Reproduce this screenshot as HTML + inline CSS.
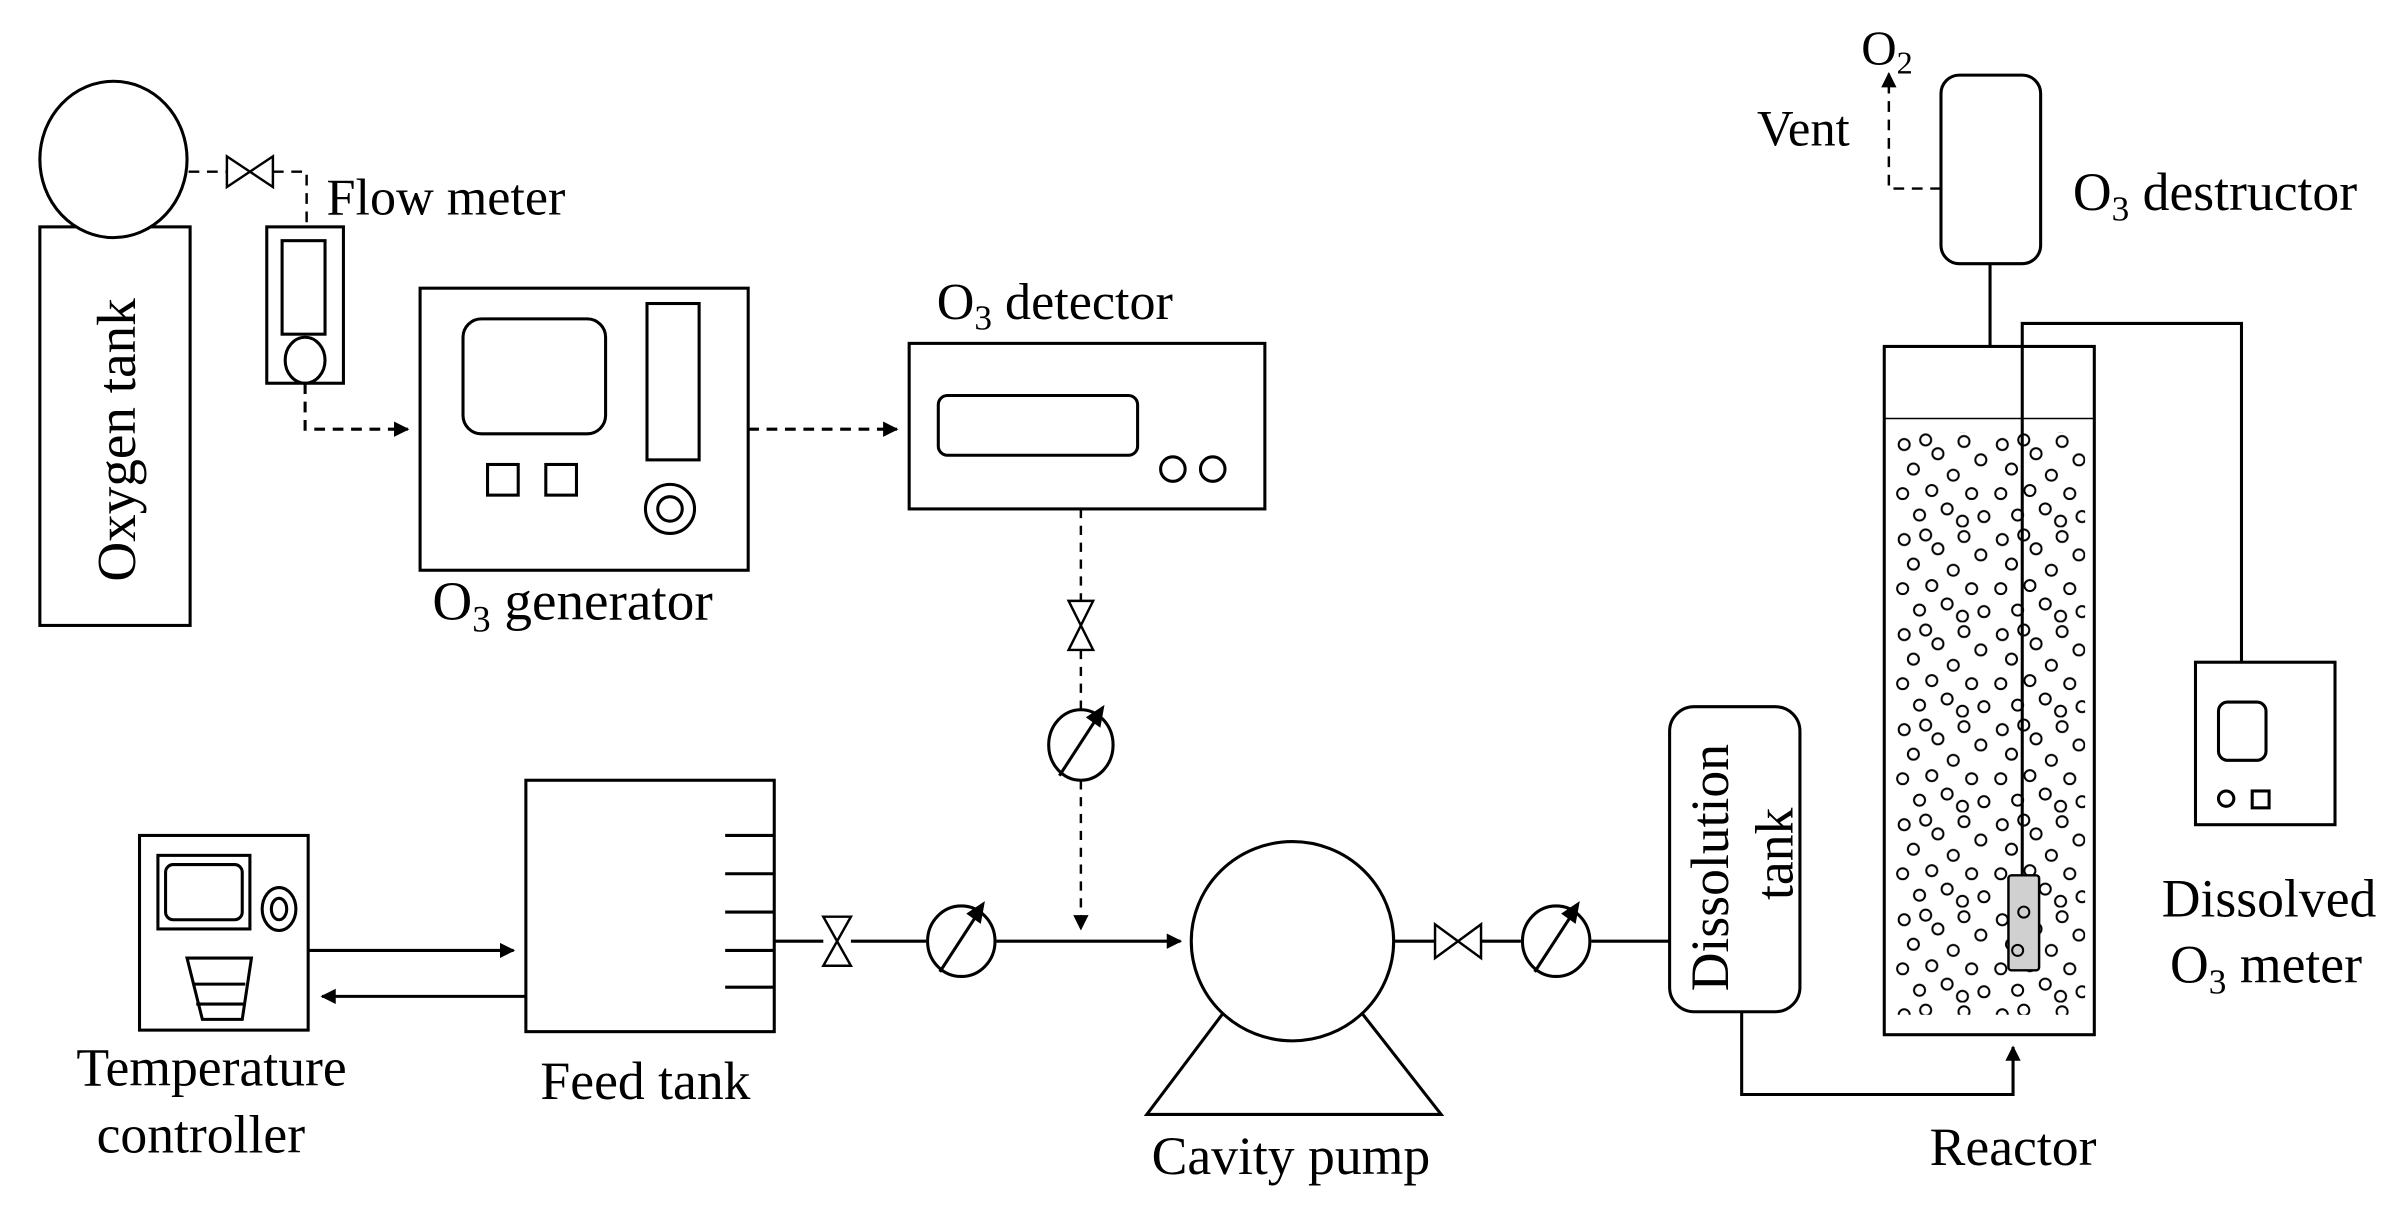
<!DOCTYPE html>
<html><head><meta charset="utf-8"><style>
html,body{margin:0;padding:0;background:#fff;}
svg{display:block;}
text{font-family:"Liberation Serif",serif;fill:#000;}
</style></head><body>
<svg width="2404" height="1211" viewBox="0 0 1568 790" preserveAspectRatio="none" xmlns="http://www.w3.org/2000/svg">
<defs>
<marker id="ah" viewBox="0 0 10 10" refX="9" refY="5" markerWidth="10" markerHeight="10" markerUnits="userSpaceOnUse" orient="auto"><path d="M0,0 L10,5 L0,10 z" fill="#000"/></marker>
<pattern id="bub" x="1236" y="282" width="64" height="62" patternUnits="userSpaceOnUse">
<g fill="none" stroke="#000" stroke-width="1.3">
<circle cx="6" cy="8" r="3.6"/><circle cx="20" cy="5" r="3.6"/><circle cx="28" cy="14" r="3.6"/>
<circle cx="45" cy="6" r="3.6"/><circle cx="56" cy="18" r="3.6"/><circle cx="12" cy="24" r="3.6"/>
<circle cx="38" cy="28" r="3.6"/><circle cx="5" cy="40" r="3.6"/><circle cx="24" cy="38" r="3.6"/>
<circle cx="50" cy="40" r="3.6"/><circle cx="16" cy="54" r="3.6"/><circle cx="34" cy="50" r="3.6"/>
<circle cx="58" cy="55" r="3.6"/><circle cx="44" cy="58" r="3.6"/>
</g></pattern>
</defs>
<g fill="none" stroke="#000" stroke-width="2">
<!-- oxygen tank -->
<rect x="26" y="148" width="98" height="260"/>
<ellipse cx="74" cy="104" rx="48" ry="51" fill="#fff"/>
<path d="M123,112 H148 M178,112 H200 V148" stroke-dasharray="7,5" stroke-width="1.6"/>
<polygon points="148,102 178,122 178,102 148,122" stroke-width="1.6"/>
<rect x="174" y="148" width="50" height="102"/>
<rect x="184" y="157" width="28" height="61"/>
<ellipse cx="199" cy="235" rx="13" ry="15"/>
<path d="M199,250 V280 H266" stroke-dasharray="7,5" marker-end="url(#ah)"/>
<!-- generator -->
<rect x="274" y="188" width="214" height="184"/>
<rect x="302" y="208" width="93" height="75" rx="12"/>
<rect x="422" y="198" width="34" height="102"/>
<rect x="318" y="303" width="20" height="20"/>
<rect x="356" y="303" width="20" height="20"/>
<circle cx="437" cy="332" r="16"/><circle cx="437" cy="332" r="8"/>
<path d="M488,280 H585" stroke-dasharray="7,5" marker-end="url(#ah)"/>
<!-- detector -->
<rect x="593" y="224" width="232" height="108"/>
<rect x="612" y="258" width="130" height="39" rx="6"/>
<circle cx="765" cy="306" r="8"/><circle cx="791" cy="306" r="8"/>
<path d="M705,332 V392" stroke-dasharray="6,5" stroke-width="1.6"/>
<polygon points="697,392 713,392 697,424 713,424" stroke-width="1.6"/>
<path d="M705,424 V464" stroke-dasharray="6,5" stroke-width="1.6"/>
<ellipse cx="705" cy="486" rx="21" ry="23"/>
<path d="M691,506 L717,466"/><path d="M719,462 L710,468 L717,473 z" fill="#000"/>
<path d="M705,509 V606" stroke-dasharray="6,5" stroke-width="1.6" marker-end="url(#ah)"/>
<!-- temperature controller -->
<rect x="91" y="545" width="110" height="127"/>
<rect x="103" y="558" width="60" height="48"/>
<rect x="108" y="564" width="50" height="36" rx="5"/>
<ellipse cx="182" cy="593" rx="11" ry="14"/><ellipse cx="182" cy="593" rx="5" ry="7"/>
<polygon points="122,625 164,625 158,665 132,665"/>
<path d="M126,642 H160 M128,655 H159"/>
<path d="M201,620 H335" marker-end="url(#ah)"/>
<path d="M343,650 H210" marker-end="url(#ah)"/>
<!-- feed tank -->
<rect x="343" y="509" width="162" height="164"/>
<path d="M473,545 H505 M473,570 H505 M473,595 H505 M473,620 H505 M473,644 H505"/>
<path d="M505,614 H537 M555,614 H604 M650,614 H770" marker-end="url(#ah)"/>
<polygon points="537,598 555,598 537,630 555,630" stroke-width="1.6"/>
<ellipse cx="627" cy="614" rx="22" ry="23"/>
<path d="M613,634 L639,594"/><path d="M641,590 L632,596 L639,601 z" fill="#000"/>
<!-- pump -->
<polygon points="800,658 748,727 940,727 886,658"/>
<ellipse cx="843" cy="614" rx="66" ry="65" fill="#fff"/>
<path d="M909,614 H936 M966,614 H992 M1038,614 H1089"/>
<polygon points="936,603 966,625 966,603 936,625" stroke-width="1.6"/>
<ellipse cx="1015" cy="614" rx="22" ry="23"/>
<path d="M1001,634 L1027,594"/><path d="M1029,590 L1020,596 L1027,601 z" fill="#000"/>
<!-- dissolution tank -->
<rect x="1089" y="461" width="85" height="199" rx="16"/>
<path d="M1136,660 V714 H1313 V683" marker-end="url(#ah)"/>
<!-- reactor -->
<rect x="1236" y="282" width="124" height="380" fill="url(#bub)" stroke="none"/>
<rect x="1229" y="226" width="137" height="449"/>
<path d="M1229,273 H1366" stroke-width="1"/>
<path d="M1298,226 V172"/>
<rect x="1266" y="49" width="65" height="123" rx="12"/>
<path d="M1266,123 H1232 V48" stroke-dasharray="7,5" stroke-width="1.6" marker-end="url(#ah)"/>
<path d="M1319,571 V211 H1462 V432"/>
<rect x="1310" y="571" width="20" height="62" rx="2" fill="#d0d0d0" stroke-width="1.6"/>
<circle cx="1320" cy="595" r="3.6" stroke-width="1.3"/><circle cx="1316" cy="620" r="3.6" stroke-width="1.3"/>
<!-- meter -->
<rect x="1432" y="432" width="91" height="106"/>
<rect x="1447" y="458" width="31" height="38" rx="6"/>
<circle cx="1452" cy="521" r="5"/>
<rect x="1469" y="516" width="11" height="11"/>
</g>
<!-- labels -->
<text x="0" y="0" font-size="36" transform="translate(88,287) rotate(-90)" text-anchor="middle">Oxygen tank</text>
<text x="213" y="140" font-size="34">Flow meter</text>
<text x="282" y="404" font-size="36">O<tspan font-size="24" dy="8">3</tspan><tspan dy="-8"> generator</tspan></text>
<text x="611" y="208" font-size="34">O<tspan font-size="23" dy="7">3</tspan><tspan dy="-7"> detector</tspan></text>
<text x="138" y="708" font-size="35" text-anchor="middle">Temperature</text>
<text x="131" y="752" font-size="35" text-anchor="middle">controller</text>
<text x="421" y="717" font-size="35" text-anchor="middle">Feed tank</text>
<text x="842" y="766" font-size="35" text-anchor="middle">Cavity pump</text>
<text x="0" y="0" font-size="35" transform="translate(1127,566) rotate(-90)" text-anchor="middle">Dissolution</text>
<text x="0" y="0" font-size="35" transform="translate(1169,557) rotate(-90)" text-anchor="middle">tank</text>
<text x="1313" y="760" font-size="35" text-anchor="middle">Reactor</text>
<text x="1214" y="42" font-size="32">O<tspan font-size="21" dy="6">2</tspan></text>
<text x="1146" y="95" font-size="33">Vent</text>
<text x="1352" y="137" font-size="35">O<tspan font-size="23" dy="7">3</tspan><tspan dy="-7"> destructor</tspan></text>
<text x="1480" y="598" font-size="35" text-anchor="middle">Dissolved</text>
<text x="1478" y="641" font-size="35" text-anchor="middle">O<tspan font-size="23" dy="7">3</tspan><tspan dy="-7"> meter</tspan></text>
</svg>
</body></html>
